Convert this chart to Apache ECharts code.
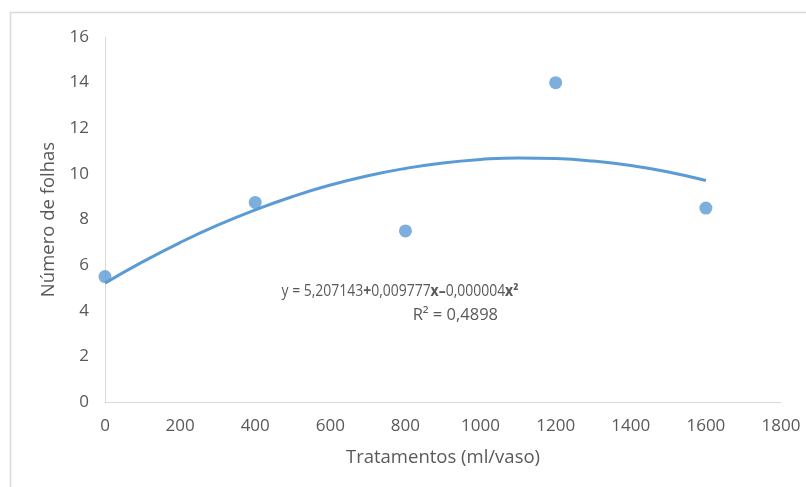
<!DOCTYPE html>
<html>
<head>
<meta charset="utf-8">
<script src="https://cdn.jsdelivr.net/npm/echarts@6/dist/echarts.min.js"></script>
<style>html,body{margin:0;padding:0;background:#fff;}#c{width:806px;height:487px;}</style>
</head>
<body>
<div id="c"></div>
<script>
// Observed data points
const treatX = [0, 400, 800, 1200, 1600];
const leaves = [5.5, 8.75, 7.5, 14, 8.5];
// Trend curve (x, y)
const trendX = [0, 100, 200, 300, 400, 500, 600, 700, 800, 900, 1000, 1100, 1200, 1300, 1400, 1500, 1600];
const trendY = [5.21, 6.14, 6.99, 7.75, 8.42, 9.01, 9.51, 9.92, 10.24, 10.48, 10.63, 10.70, 10.67, 10.56, 10.37, 10.08, 9.71];
const xTitle = 'Tratamentos (ml/vaso)';
const yTitle = 'Número de folhas';
const eqLine1 = ['y = 5,207143', '+', '0,009777', 'x', '–', '0,000004', 'x²'];
const eqLine2 = 'R² = 0,4898';

const FONT = '"Open Sans", "Noto Sans", sans-serif';
const chart = echarts.init(document.getElementById('c'), null, {renderer: 'canvas'});
chart.setOption({
  backgroundColor: '#fff',
  animation: false,
  grid: {left: 105, right: 25, top: 37, bottom: 85},
  xAxis: {
    type: 'value', min: 0, max: 1800, interval: 200,
    name: xTitle, nameLocation: 'middle', nameGap: 46,
    nameTextStyle: {fontFamily: FONT, fontSize: 18.5, color: '#595959'},
    axisLine: {show: true, lineStyle: {color: '#d9d9d9', width: 1}},
    axisTick: {show: false},
    splitLine: {show: false},
    axisLabel: {fontFamily: FONT, fontSize: 17, color: '#595959', margin: 16, formatter: v => String(v)}
  },
  yAxis: {
    type: 'value', min: 0, max: 16, interval: 2,
    name: yTitle, nameLocation: 'middle', nameGap: 43, nameRotate: 90,
    nameTextStyle: {fontFamily: FONT, fontSize: 18.5, color: '#595959'},
    axisLine: {show: true, lineStyle: {color: '#d9d9d9', width: 1}},
    axisTick: {show: false},
    splitLine: {show: false},
    axisLabel: {fontFamily: FONT, fontSize: 17, color: '#595959', margin: 16, formatter: v => String(v)}
  },
  series: [
    {
      type: 'line', data: trendX.map((x, i) => [x, trendY[i]]),
      smooth: true, showSymbol: false, symbol: 'none',
      lineStyle: {color: '#5b9bd5', width: 3}, z: 2
    },
    {
      type: 'scatter', data: treatX.map((x, i) => [x, leaves[i]]),
      symbol: 'circle', symbolSize: 13,
      itemStyle: {color: '#5b9bd5'}, z: 3
    }
  ],
  graphic: [
    {type: 'rect', shape: {x: 10.5, y: 12.5, width: 820, height: 520}, style: {fill: 'none', stroke: '#d9d9d9', lineWidth: 1.5}, silent: true},
    {type: 'text', x: 400, y: 284, scaleX: 0.9, style: {
      align: 'center', fontFamily: FONT, fontSize: 15.5, fill: '#595959',
      rich: {n: {fontFamily: FONT, fontSize: 15.5, fill: '#595959'}, b: {fontFamily: FONT, fontSize: 15.5, fill: '#595959', fontWeight: 'bold'}},
      text: '{n|' + eqLine1[0] + '}{b|' + eqLine1[1] + '}{n|' + eqLine1[2] + '}{b|' + eqLine1[3] + '}{b|' + eqLine1[4] + '}{n|' + eqLine1[5] + '}{b|' + eqLine1[6] + '}'
    }},
    {type: 'text', x: 498, y: 307, style: {align: 'right', text: eqLine2, fontFamily: FONT, fontSize: 16.5, fill: '#595959'}}
  ]
});
</script>
</body>
</html>
